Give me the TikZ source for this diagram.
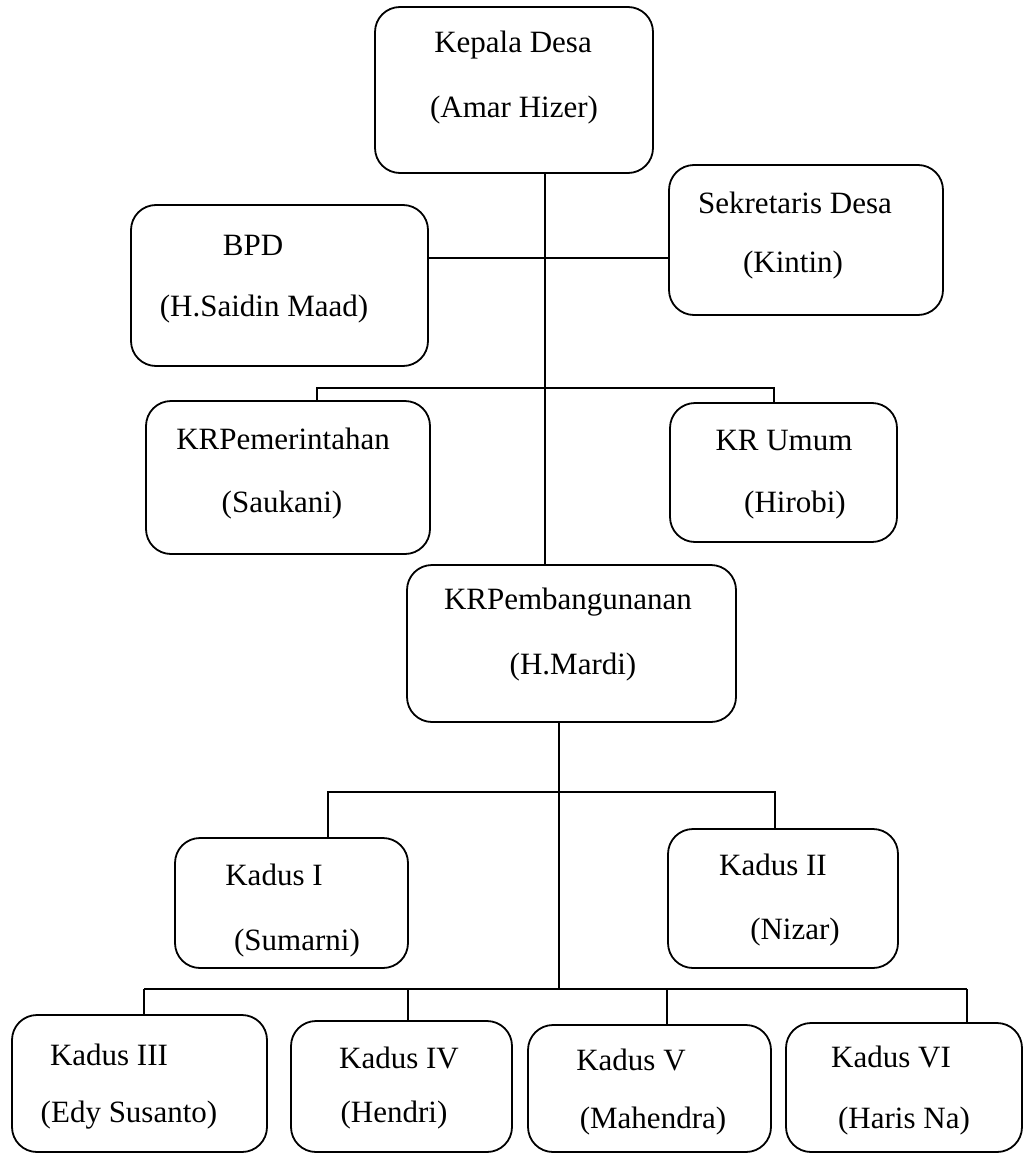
\documentclass[tikz,border=0pt]{standalone}
\usepackage{fontspec}
\setmainfont{Liberation Serif}
\usepackage{tikz}
\usetikzlibrary{positioning, calc}
\tikzset{
  orgbox/.style={draw, rectangle, rounded corners=25pt, line width=1.8pt, inner sep=0pt},
  orgtext/.style={font=\fontsize{31}{36}\selectfont, inner sep=0pt},
  orgline/.style={line width=1.8pt}
}
\begin{document}
\begin{tikzpicture}[x=1pt,y=-1pt]
        \useasboundingbox (0,0) rectangle (1024,1153);
        % Top
        \node[orgbox, minimum width=278pt, minimum height=166pt] (kades) at (514,90) {};
        \node[orgbox, minimum width=274pt, minimum height=150pt] (sekdes) at (806,240) {};
        \node[orgbox, minimum width=297pt, minimum height=161pt] (bpd) at (279.5,285.5) {};
        % Kepala urusan
        \node[orgbox, minimum width=284pt, minimum height=153pt] (krpem) at (288,477.5) {};
        \node[orgbox, minimum width=227pt, minimum height=139pt] (kumum) at (783.5,472.5) {};
        \node[orgbox, minimum width=329pt, minimum height=157pt] (krbang) at (571.5,643.5) {};
        % Kadus
        \node[orgbox, minimum width=233pt, minimum height=130pt] (kadusA) at (291.5,903) {};
        \node[orgbox, minimum width=230pt, minimum height=139pt] (kadusB) at (783,898.5) {};
        \node[orgbox, minimum width=255pt, minimum height=137pt] (kadusC) at (139.5,1083.5) {};
        \node[orgbox, minimum width=221pt, minimum height=131pt] (kadusD) at (401.5,1086.5) {};
        \node[orgbox, minimum width=243pt, minimum height=127pt] (kadusE) at (649.5,1088.5) {};
        \node[orgbox, minimum width=236pt, minimum height=129pt] (kadusF) at (904,1087.5) {};
        % Names
        \node[orgtext] (kadesT) at (513,45) {Kepala Desa};
        \node[orgtext] (kadesN) at (514,110) {(Amar Hizer)};
        \node[orgtext] (sekdesT) at (795,203) {Sekretaris Desa};
        \node[orgtext] (sekdesN) at (793,265) {(Kintin)};
        \node[orgtext] (bpdT) at (253,245) {BPD};
        \node[orgtext] (bpdN) at (264,309) {(H.Saidin Maad)};
        \node[orgtext] (krpemT) at (283,439) {KRPemerintahan};
        \node[orgtext] (krpemN) at (282,505) {(Saukani)};
        \node[orgtext] (kumumT) at (784,440) {KR Umum};
        \node[orgtext] (kumumN) at (795,505) {(Hirobi)};
        \node[orgtext] (krbangT) at (568,602) {KRPembangunanan};
        \node[orgtext] (krbangN) at (573,667) {(H.Mardi)};
        \node[orgtext] (kadusAT) at (274,875) {Kadus I};
        \node[orgtext] (kadusAN) at (297,943) {(Sumarni)};
        \node[orgtext] (kadusBT) at (773,865) {Kadus II};
        \node[orgtext] (kadusBN) at (795,932) {(Nizar)};
        \node[orgtext] (kadusCT) at (109,1055) {Kadus III};
        \node[orgtext] (kadusCN) at (129,1115) {(Edy Susanto)};
        \node[orgtext] (kadusDT) at (399,1058) {Kadus IV};
        \node[orgtext] (kadusDN) at (394,1115) {(Hendri)};
        \node[orgtext] (kadusET) at (631,1060) {Kadus V};
        \node[orgtext] (kadusEN) at (653,1121) {(Mahendra)};
        \node[orgtext] (kadusFT) at (891,1057) {Kadus VI};
        \node[orgtext] (kadusFN) at (904,1121) {(Haris Na)};
        % Junctions
        \coordinate (trunk) at (545,258);
        \coordinate (urL) at (317,388);
        \coordinate (urR) at (774,388);
        \coordinate (dsTop) at (559,792);
        \coordinate (dsL) at (328,792);
        \coordinate (dsR) at (775,792);
        \coordinate (dsBot) at (559,989);
        \coordinate (dsC) at (144,989);
        \coordinate (dsD) at (408,989);
        \coordinate (dsE) at (667,989);
        \coordinate (dsF) at (967,989);
        % Lines
        \draw[orgline] (kades.south -| trunk) -- (krbang.north -| trunk);
        \draw[orgline] (bpd.east |- trunk) -- (sekdes.west |- trunk);
        \draw[orgline] (krpem.north -| urL) -- (urL) -- (urR) -- (kumum.north -| urR);
        \draw[orgline] (krbang.south -| dsTop) -- (dsBot);
        \draw[orgline] (kadusA.north -| dsL) -- (dsL) -- (dsR) -- (kadusB.north -| dsR);
        \draw[orgline] (dsC) -- (dsF);
        \foreach \k/\j in {kadusC/dsC, kadusD/dsD, kadusE/dsE, kadusF/dsF}{
          \draw[orgline] (\j) -- (\k.north -| \j);
        }
\end{tikzpicture}
\end{document}
